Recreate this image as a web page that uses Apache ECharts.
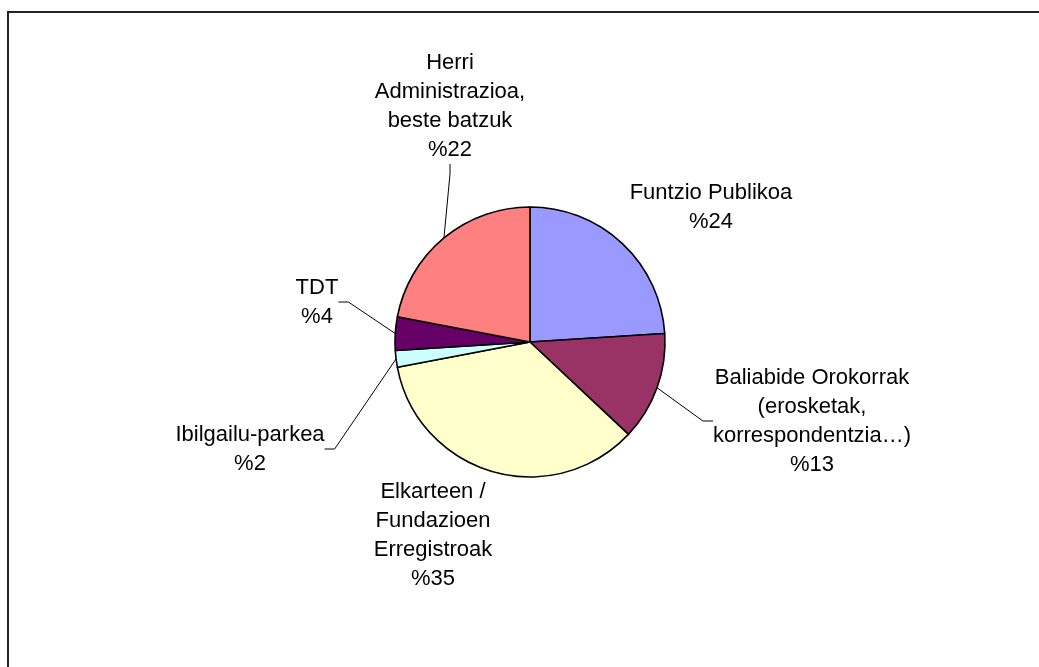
<!DOCTYPE html>
<html>
<head>
<meta charset="utf-8">
<script src="https://cdn.jsdelivr.net/npm/echarts@6/dist/echarts.min.js"></script>
<style>
html,body{margin:0;padding:0;background:#fff;}
#chart{width:1039px;height:667px;}
</style>
</head>
<body>
<div id="chart"></div>
<script>
var categories = [
  'Funtzio Publikoa',
  'Baliabide Orokorrak\n(erosketak,\nkorrespondentzia…)',
  'Elkarteen /\nFundazioen\nErregistroak',
  'Ibilgailu-parkea',
  'TDT',
  'Herri\nAdministrazioa,\nbeste batzuk'
];
var values = [24, 13, 35, 2, 4, 22];
var colors = ['#9999FF', '#993366', '#FFFFCC', '#CCFFFF', '#660066', '#FF8080'];
var showLine = [false, true, false, true, true, true];
var labelPos = [[711, 207], [812, 421], [433, 535], [250, 449], [317, 302], [450, 106]];

var chart = echarts.init(document.getElementById('chart'));
var data = categories.map(function (c, i) {
  return {
    name: c,
    value: values[i],
    itemStyle: { color: colors[i] },
    labelLine: { show: showLine[i] }
  };
});
chart.setOption({
  animation: false,
  backgroundColor: '#ffffff',
  graphic: [{
    type: 'rect',
    shape: { x: 8, y: 12, width: 1100, height: 700 },
    style: { fill: 'none', stroke: '#222', lineWidth: 2 },
    silent: true
  }],
  series: [{
    type: 'pie',
    center: [530, 342],
    radius: 135,
    startAngle: 90,
    clockwise: true,
    avoidLabelOverlap: false,
    itemStyle: { borderColor: '#000', borderWidth: 1.6 },
    label: {
      show: true,
      fontFamily: 'Liberation Sans, Arial, sans-serif',
      fontSize: 22,
      lineHeight: 29,
      color: '#000',
      align: 'center',
      formatter: function (p) { return p.name + '\n%' + p.value; }
    },
    labelLine: {
      show: true,
      length: 20,
      length2: 10,
      lineStyle: { color: '#000', width: 1 }
    },
    labelLayout: function (params) {
      var p = labelPos[params.dataIndex];
      return { x: p[0], y: p[1], align: 'center', verticalAlign: 'middle' };
    },
    data: data
  }]
});
</script>
</body>
</html>
